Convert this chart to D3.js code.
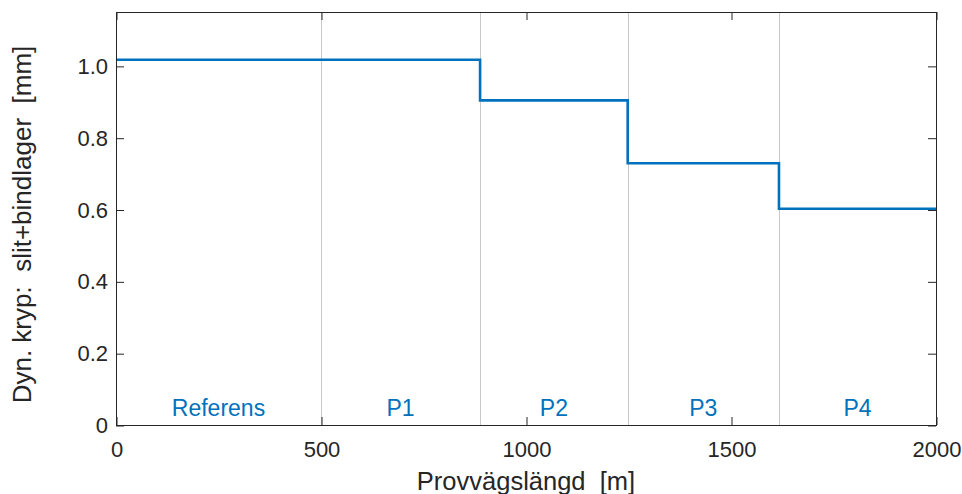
<!DOCTYPE html>
<html>
<head>
<meta charset="utf-8">
<script src="https://cdn.jsdelivr.net/npm/d3@7"></script>
<style>
  html, body { margin: 0; padding: 0; background: #fff; }
  svg { display: block; font-family: "Liberation Sans", Arial, sans-serif; }
</style>
</head>
<body>
<svg id="chart" width="962" height="494"></svg>
<script>
// Test road sections along the track (m)
const sections = ["Referens", "P1", "P2", "P3", "P4"];
const sectionStart = [0, 500, 888, 1248, 1617];
const sectionEnd = [500, 888, 1248, 1617, 2000];
// Dynamic creep, wearing course + binder course (mm), per section
const creep = [1.017, 1.017, 0.904, 0.729, 0.602];

const xTicks = [0, 500, 1000, 1500, 2000];
const yTicks = [0, 0.2, 0.4, 0.6, 0.8, 1.0];
const yTickLabels = ["0", "0.2", "0.4", "0.6", "0.8", "1.0"];

const plotL = 116, plotR = 936, plotT = 12, plotB = 425;
const axisColor = "#262626";
const lineColor = "#0072BD";
const tickFont = 22;
const sectionFont = 23;
const titleFont = 25.5;

const svg = d3.select("#chart");
const x = d3.scaleLinear().domain([0, 2000]).range([plotL, plotR]);
const y = d3.scaleLinear().domain([0, 1.15]).range([plotB, plotT]);

// Section boundary lines (interior only)
svg.append("g")
  .selectAll("line")
  .data(sectionStart.slice(1))
  .join("line")
  .attr("x1", d => Math.round(x(d)) + 0.5)
  .attr("x2", d => Math.round(x(d)) + 0.5)
  .attr("y1", plotT)
  .attr("y2", plotB)
  .attr("stroke", "#c8c8c8")
  .attr("stroke-width", 1);

// Step line through the sections
const pts = sections.map((s, i) => [sectionStart[i], creep[i]]);
pts.push([sectionEnd[sectionEnd.length - 1], creep[creep.length - 1]]);
const line = d3.line()
  .x(d => x(d[0]))
  .y(d => y(d[1]))
  .curve(d3.curveStepAfter);
svg.append("path")
  .datum(pts)
  .attr("d", line)
  .attr("fill", "none")
  .attr("stroke", lineColor)
  .attr("stroke-width", 2.6);

// Section names
svg.append("g")
  .selectAll("text")
  .data(sections)
  .join("text")
  .attr("x", (d, i) => x((sectionStart[i] + sectionEnd[i]) / 2))
  .attr("y", 415.5)
  .attr("text-anchor", "middle")
  .attr("fill", lineColor)
  .attr("font-size", sectionFont)
  .text(d => d);

// Axes: box with inward ticks on all sides
const tickLen = 8;
function styleAxis(g) {
  g.select(".domain").remove();
  g.selectAll(".tick line").attr("stroke", axisColor).attr("stroke-width", 1);
  g.selectAll(".tick text").attr("fill", axisColor).attr("font-size", tickFont)
    .attr("font-family", "Liberation Sans, Arial, sans-serif");
}

const xb = svg.append("g")
  .attr("transform", `translate(0.5,${plotB})`)
  .call(d3.axisBottom(x).tickValues(xTicks).tickSizeInner(-tickLen).tickSizeOuter(0)
    .tickPadding(16).tickFormat(d3.format("d")));
styleAxis(xb);

const xt = svg.append("g")
  .attr("transform", `translate(0.5,${plotT})`)
  .call(d3.axisTop(x).tickValues(xTicks).tickSizeInner(-tickLen).tickSizeOuter(0).tickFormat(""));
styleAxis(xt);

const yl = svg.append("g")
  .attr("transform", `translate(${plotL},0.5)`)
  .call(d3.axisLeft(y).tickValues(yTicks).tickSizeInner(-tickLen).tickSizeOuter(0)
    .tickPadding(8).tickFormat((d, i) => yTickLabels[i]));
styleAxis(yl);

const yr = svg.append("g")
  .attr("transform", `translate(${plotR},0.5)`)
  .call(d3.axisRight(y).tickValues(yTicks).tickSizeInner(-tickLen).tickSizeOuter(0).tickFormat(""));
styleAxis(yr);

// Frame
svg.append("rect")
  .attr("x", plotL + 0.5)
  .attr("y", plotT + 0.5)
  .attr("width", plotR - plotL)
  .attr("height", plotB - plotT)
  .attr("fill", "none")
  .attr("stroke", axisColor)
  .attr("stroke-width", 1);

// Axis titles
svg.append("text")
  .attr("x", (plotL + plotR) / 2)
  .attr("y", 490)
  .attr("text-anchor", "middle")
  .attr("fill", axisColor)
  .attr("font-size", titleFont)
  .style("white-space", "pre")
  .text("Provvägslängd  [m]");

svg.append("text")
  .attr("transform", `translate(31,${(plotT + plotB) / 2 + 6}) rotate(-90)`)
  .attr("text-anchor", "middle")
  .attr("fill", axisColor)
  .attr("font-size", 26)
  .style("white-space", "pre")
  .text("Dyn. kryp:  slit+bindlager  [mm]");
</script>
</body>
</html>
